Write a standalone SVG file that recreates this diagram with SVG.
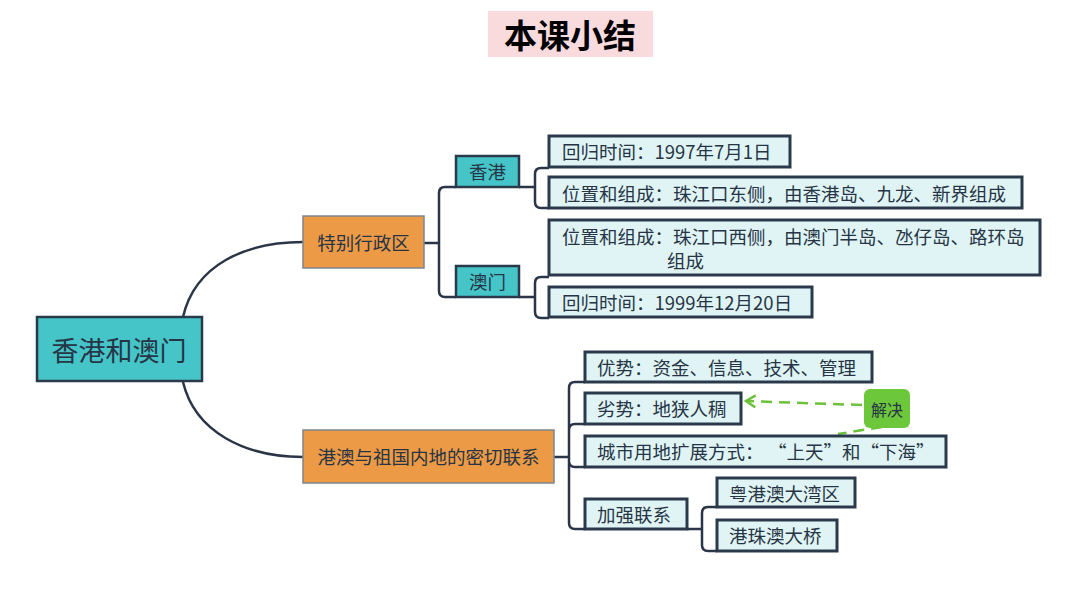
<svg xmlns="http://www.w3.org/2000/svg" width="1080" height="608" viewBox="0 0 1080 608">
<defs>
<style>
text{font-family:"Noto Sans CJK SC","Noto Sans",sans-serif;fill:#263445;dominant-baseline:central}
.leaf{fill:#e0f4f6;stroke:#2b3a4b;stroke-width:3}
.teal{fill:#45c5c8;stroke:#2b3a4b;stroke-width:2.5}
.orange{fill:#ec9a45;stroke:#7d8590;stroke-width:1.5}
.t18{font-size:18.5px}
.conn{fill:none;stroke:#2b3548;stroke-width:2.5}
.dash{fill:none;stroke:#6cc23a;stroke-width:2.5;stroke-dasharray:11 7}
</style>
<marker id="arr" viewBox="0 0 12 14" refX="10.5" refY="7" markerWidth="12" markerHeight="14" markerUnits="userSpaceOnUse" orient="auto">
<path d="M1,1 L10.5,7 L1,13" fill="none" stroke="#6cc23a" stroke-width="2.5"/>
</marker>
</defs>
<rect width="1080" height="608" fill="#ffffff"/>

<g id="title">
<rect x="488" y="11" width="165" height="46" fill="#f9dadd"/>
<text x="570" y="34" text-anchor="middle" style="font-size:33px;font-weight:bold;fill:#000">本课小结</text>
</g>

<g id="connectors">
<path class="conn" d="M183,317 C195,265 245,242 303,242"/>
<path class="conn" d="M183,382 C195,432 245,457 303,457"/>
<path class="conn" d="M424,243 H439 M439,243 V193 Q439,187 445,187 H456 M439,243 V291 Q439,297 445,297 H456"/>
<path class="conn" d="M519,187 H535 M535,187 V174 Q535,168 541,168 H549 M535,187 V202 Q535,208 541,208 H549"/>
<path class="conn" d="M519,297 H535 M535,297 V283 Q535,277 541,277 H549 M535,297 V312 Q535,318 541,318 H549"/>
<path class="conn" d="M554,457 H569 M569,457 V388 Q569,382 575,382 H585 M569,457 V430 Q569,424 575,424 H585 M569,457 V461 Q569,467 575,467 H585 M569,457 V523 Q569,529 575,529 H585"/>
<path class="conn" d="M687,529 H702 M702,529 V513 Q702,507 708,507 H717 M702,529 V545 Q702,551 708,551 H717"/>
<path class="dash" d="M862,405 L746,401" marker-end="url(#arr)"/>
<path class="dash" d="M882,427 L838,434"/>
</g>

<g id="root">
<rect class="teal" x="37" y="317" width="165" height="64"/>
<text x="119" y="349" text-anchor="middle" style="font-size:27px">香港和澳门</text>
</g>

<g id="n-sar">
<rect class="orange" x="303" y="216" width="121" height="52"/>
<text class="t18" x="363.5" y="242" text-anchor="middle">特别行政区</text>
</g>
<g id="n-link">
<rect class="orange" x="303" y="430" width="251" height="53"/>
<text class="t18" x="428.5" y="456" text-anchor="middle">港澳与祖国内地的密切联系</text>
</g>

<g id="n-hk">
<rect class="teal" x="456" y="156" width="63" height="31"/>
<text class="t18" x="487.5" y="171" text-anchor="middle">香港</text>
</g>
<g id="n-mo">
<rect class="teal" x="456" y="266" width="63" height="31"/>
<text class="t18" x="487.5" y="281" text-anchor="middle">澳门</text>
</g>

<g id="n-hk-time">
<rect class="leaf" x="549" y="136" width="241" height="31"/>
<text class="t18" x="562" y="151">回归时间：1997年7月1日</text>
</g>
<g id="n-hk-loc">
<rect class="leaf" x="549" y="177" width="473" height="31"/>
<text class="t18" x="562" y="193">位置和组成：珠江口东侧，由香港岛、九龙、新界组成</text>
</g>
<g id="n-mo-loc">
<rect class="leaf" x="549" y="220" width="491" height="55"/>
<text class="t18" x="562" y="235.5">位置和组成：珠江口西侧，由澳门半岛、氹仔岛、路环岛</text>
<text class="t18" x="667" y="259.5">组成</text>
</g>
<g id="n-mo-time">
<rect class="leaf" x="549" y="287" width="263" height="30"/>
<text class="t18" x="562" y="302">回归时间：1999年12月20日</text>
</g>

<g id="n-adv">
<rect class="leaf" x="585" y="352" width="287" height="30"/>
<text class="t18" x="597" y="367">优势：资金、信息、技术、管理</text>
</g>
<g id="n-dis">
<rect class="leaf" x="585" y="393" width="156" height="31"/>
<text class="t18" x="597" y="408">劣势：地狭人稠</text>
</g>
<g id="n-city">
<rect class="leaf" x="585" y="436" width="361" height="31"/>
<text class="t18" x="597" y="451">城市用地扩展方式：<tspan x="768">“</tspan><tspan x="786.5">上天</tspan><tspan x="823.5">”</tspan><tspan x="842">和</tspan><tspan x="860.5">“</tspan><tspan x="879">下海</tspan><tspan x="916">”</tspan></text>
</g>
<g id="n-strengthen">
<rect class="leaf" x="585" y="499" width="102" height="30"/>
<text class="t18" x="597" y="514">加强联系</text>
</g>
<g id="n-gba">
<rect class="leaf" x="717" y="478" width="138" height="29"/>
<text class="t18" x="729" y="493">粤港澳大湾区</text>
</g>
<g id="n-bridge">
<rect class="leaf" x="717" y="520" width="120" height="31"/>
<text class="t18" x="729" y="535">港珠澳大桥</text>
</g>

<g id="n-solve">
<rect x="864" y="389" width="46" height="39" rx="6" fill="#6cc73a"/>
<text x="887" y="408.5" text-anchor="middle" style="font-size:16px">解决</text>
</g>
</svg>
